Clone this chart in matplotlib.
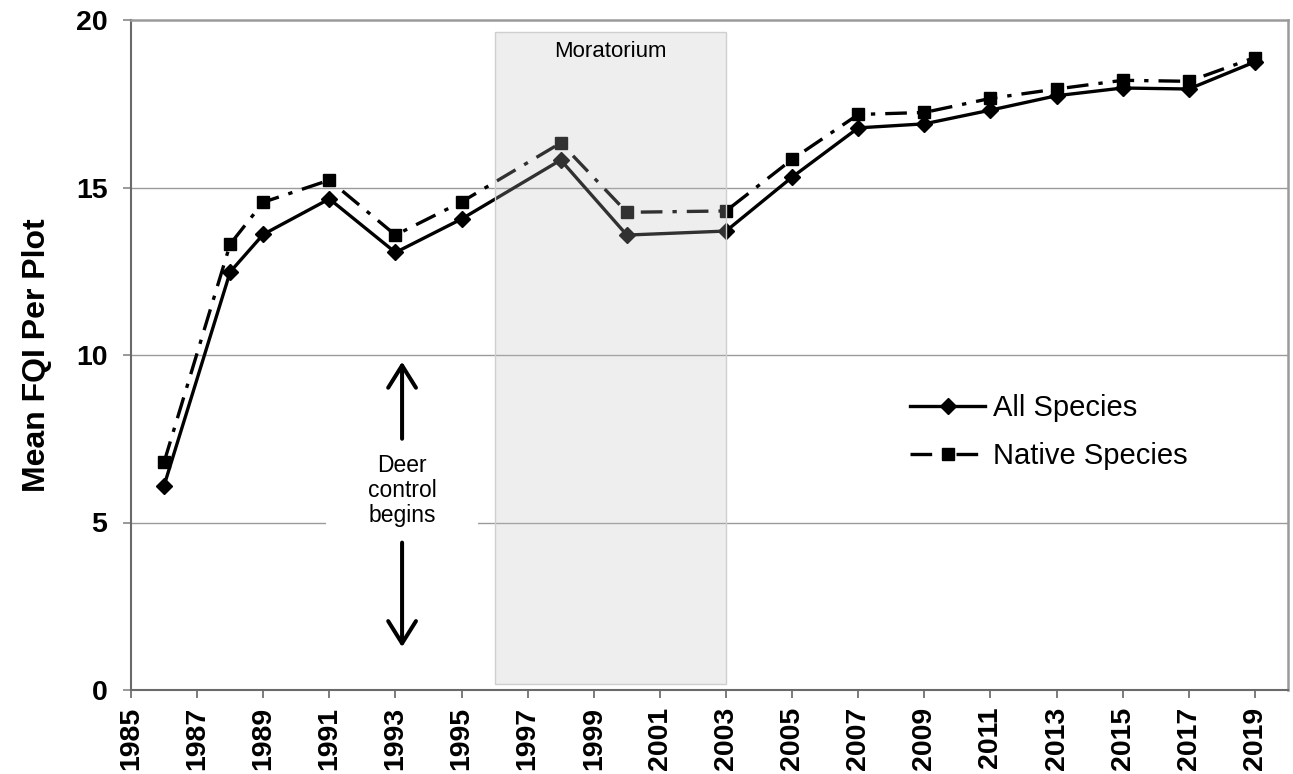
import matplotlib
matplotlib.use("Agg")
import matplotlib.pyplot as plt
from matplotlib.patches import Rectangle

plt.rcParams["font.family"] = ["Liberation Sans", "DejaVu Sans"]

# survey years and mean FQI per plot
years = [1986, 1988, 1989, 1991, 1993, 1995, 1998, 2000, 2003,
         2005, 2007, 2009, 2011, 2013, 2015, 2017, 2019]
all_species = [6.1, 12.48, 13.6, 14.66, 13.06, 14.06, 15.82, 13.58, 13.7,
               15.31, 16.78, 16.9, 17.31, 17.74, 17.97, 17.94, 18.75]
native_species = [6.8, 13.31, 14.56, 15.22, 13.58, 14.57, 16.33, 14.26, 14.3,
                  15.84, 17.18, 17.24, 17.66, 17.94, 18.2, 18.17, 18.88]

xtick_years = list(range(1985, 2020, 2))
yticks = [0, 5, 10, 15, 20]

moratorium = (1996, 2003)
deer_year = 1993.2

fig = plt.figure(figsize=(12.93, 7.74), dpi=100)
ax = fig.add_axes([131 / 1293, 1 - 690 / 774, 1157 / 1293, 670 / 774])

ax.set_xlim(1985, 2020)
ax.set_ylim(0, 20)

# gridlines
for y in yticks[1:-1]:
    ax.axhline(y, color="#9a9a9a", lw=1.0, zorder=1)

ax.plot(years, all_species, color="black", lw=2.4, marker="D", ms=8.5,
        label="All Species", zorder=3)
ax.plot(years, native_species, color="black", lw=2.4, marker="s", ms=8.5,
        linestyle=(0, (6.5, 3, 1.3, 3)), label="Native Species", zorder=3)

# moratorium shading (drawn over the lines, slightly transparent)
ax.add_patch(Rectangle((moratorium[0], 0.17), moratorium[1] - moratorium[0], 19.48,
                       facecolor="#c1c1c1", alpha=0.26, edgecolor="none", zorder=5))
ax.add_patch(Rectangle((moratorium[0], 0.17), moratorium[1] - moratorium[0], 19.48,
                       facecolor="none", edgecolor="#cfcfcf", lw=1.0, zorder=5))
ax.text(sum(moratorium) / 2, 19.05, "Moratorium", ha="center", va="center",
        fontsize=16, zorder=6)

# deer control annotation
ax.text(deer_year, 5.95, "Deer\ncontrol\nbegins", ha="center", va="center",
        fontsize=16.5, linespacing=1.12, zorder=2,
        bbox=dict(boxstyle="square,pad=1.8", facecolor="white", edgecolor="none"))
arrow_kw = dict(arrowstyle="->,head_length=0.8,head_width=0.5", lw=2.9,
                color="black", mutation_scale=20, shrinkA=0, shrinkB=0)
ax.annotate("", xy=(deer_year, 9.8), xytext=(deer_year, 7.5),
            arrowprops=arrow_kw, zorder=4)
ax.annotate("", xy=(deer_year, 1.28), xytext=(deer_year, 4.4),
            arrowprops=arrow_kw, zorder=4)

ax.set_xticks(xtick_years)
ax.set_xticklabels([str(y) for y in xtick_years], rotation=90,
                   fontsize=20.5, fontweight="bold")
ax.set_yticks(yticks)
ax.set_yticklabels([str(y) for y in yticks], fontsize=20.5, fontweight="bold")
ax.tick_params(axis="x", length=6, width=1.2, color="#666666", pad=6)
ax.tick_params(axis="y", length=6, width=1.2, color="#888888", pad=11)

for side in ["left", "bottom"]:
    ax.spines[side].set_color("#6a6a6a")
    ax.spines[side].set_linewidth(1.5)
for side in ["top", "right"]:
    ax.spines[side].set_color("#9a9a9a")
    ax.spines[side].set_linewidth(1.8)

ax.set_ylabel("Mean FQI Per Plot", fontsize=23, fontweight="bold")
ax.yaxis.set_label_coords(-0.068, 0.5)

ax.legend(loc="center left", bbox_to_anchor=(0.673, 0.385), frameon=False,
          fontsize=21, handlelength=2.6, handletextpad=0.25, labelspacing=0.7,
          borderpad=0, borderaxespad=0, numpoints=1)

fig.savefig("out.png", dpi=100)
